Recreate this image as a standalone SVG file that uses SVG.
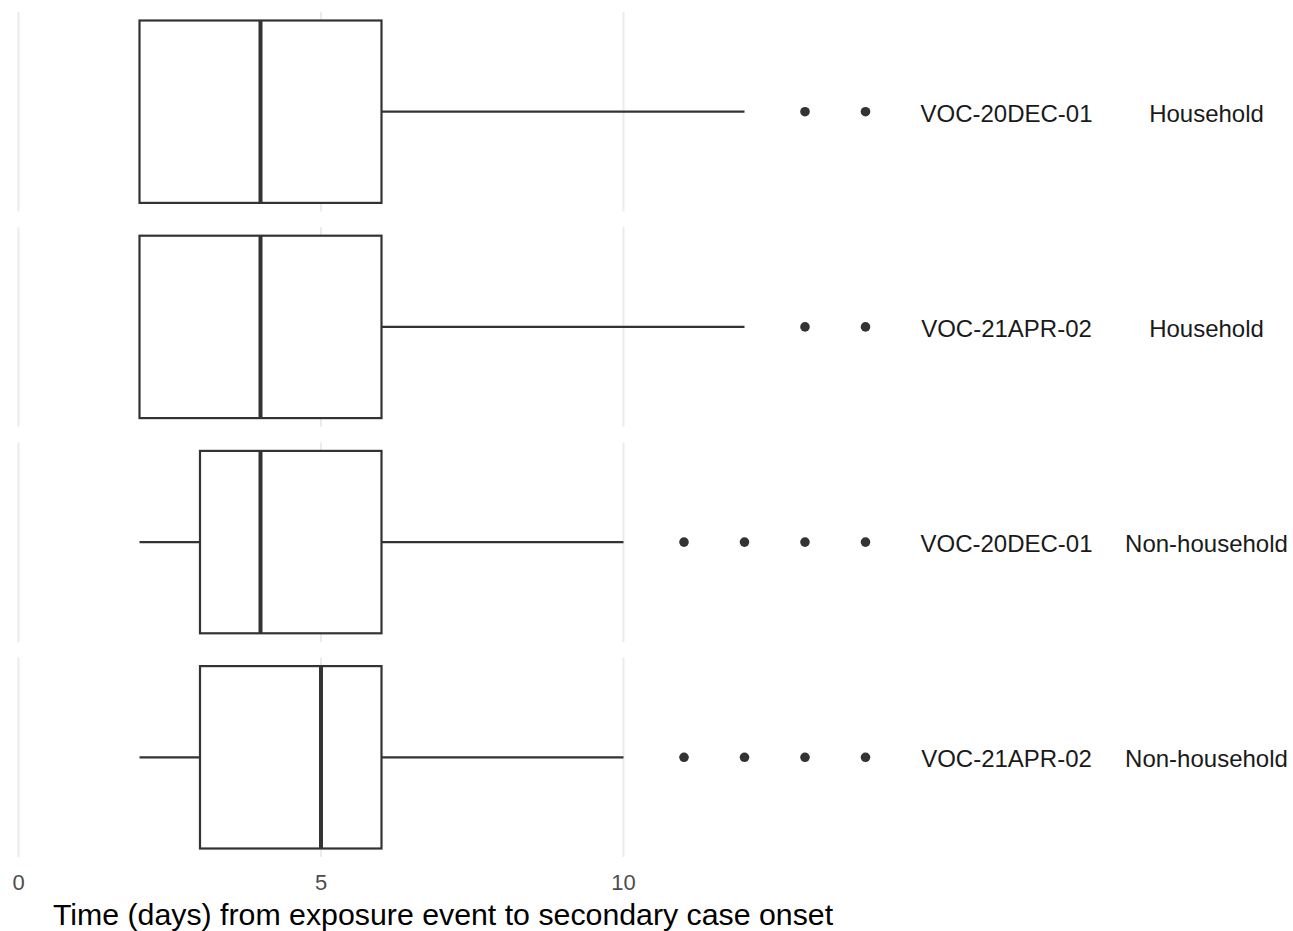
<svg xmlns="http://www.w3.org/2000/svg" width="1293" height="931" viewBox="0 0 1293 931">
<style>
.grid{stroke:#ebebeb;stroke-width:2;fill:none}
.box{stroke:#333333;stroke-width:2.2;fill:#ffffff}
.med{stroke:#333333;stroke-width:4}
.wh{stroke:#333333;stroke-width:2.2}
.out{fill:#333333}
.strip{font-family:"Liberation Sans",Arial,sans-serif;font-size:24px;fill:#1a1a1a;text-anchor:middle}
.tick{font-family:"Liberation Sans",Arial,sans-serif;font-size:22px;fill:#4d4d4d;text-anchor:middle}
.title{font-family:"Liberation Sans",Arial,sans-serif;font-size:30.3px;fill:#000000;text-anchor:middle}
</style>
<rect x="0" y="0" width="1293" height="931" fill="#ffffff"/>
<g id="gridlines">
<path class="grid" d="M18.5 12V211.5M321 12V211.5M623.5 12V211.5"/>
<path class="grid" d="M18.5 227.2V426.7M321 227.2V426.7M623.5 227.2V426.7"/>
<path class="grid" d="M18.5 442.4V641.9M321 442.4V641.9M623.5 442.4V641.9"/>
<path class="grid" d="M18.5 657.6V857.1M321 657.6V857.1M623.5 657.6V857.1"/>
</g>
<g id="whiskers">
<line class="wh" x1="381.5" y1="111.7" x2="744.5" y2="111.7"/>
<line class="wh" x1="381.5" y1="326.9" x2="744.5" y2="326.9"/>
<line class="wh" x1="139.5" y1="542.1" x2="200" y2="542.1"/>
<line class="wh" x1="381.5" y1="542.1" x2="623.5" y2="542.1"/>
<line class="wh" x1="139.5" y1="757.3" x2="200" y2="757.3"/>
<line class="wh" x1="381.5" y1="757.3" x2="623.5" y2="757.3"/>
</g>
<g id="row1">
<rect class="box" x="139.5" y="20.5" width="242" height="182.4"/>
<line class="med" x1="260.5" y1="20.5" x2="260.5" y2="202.9"/>
<circle class="out" cx="805" cy="111.7" r="4.8"/>
<circle class="out" cx="865.5" cy="111.7" r="4.8"/>
<text class="strip" x="1006.5" y="121.5">VOC-20DEC-01</text>
<text class="strip" x="1206.5" y="121.5">Household</text>
</g>
<g id="row2">
<rect class="box" x="139.5" y="235.7" width="242" height="182.4"/>
<line class="med" x1="260.5" y1="235.7" x2="260.5" y2="418.1"/>
<circle class="out" cx="805" cy="326.9" r="4.8"/>
<circle class="out" cx="865.5" cy="326.9" r="4.8"/>
<text class="strip" x="1006.5" y="336.7">VOC-21APR-02</text>
<text class="strip" x="1206.5" y="336.7">Household</text>
</g>
<g id="row3">
<rect class="box" x="200" y="450.9" width="181.5" height="182.4"/>
<line class="med" x1="260.5" y1="450.9" x2="260.5" y2="633.3"/>
<circle class="out" cx="684" cy="542.1" r="4.8"/>
<circle class="out" cx="744.5" cy="542.1" r="4.8"/>
<circle class="out" cx="805" cy="542.1" r="4.8"/>
<circle class="out" cx="865.5" cy="542.1" r="4.8"/>
<text class="strip" x="1006.5" y="551.9">VOC-20DEC-01</text>
<text class="strip" x="1206.5" y="551.9">Non-household</text>
</g>
<g id="row4">
<rect class="box" x="200" y="666.1" width="181.5" height="182.4"/>
<line class="med" x1="321" y1="666.1" x2="321" y2="848.5"/>
<circle class="out" cx="684" cy="757.3" r="4.8"/>
<circle class="out" cx="744.5" cy="757.3" r="4.8"/>
<circle class="out" cx="805" cy="757.3" r="4.8"/>
<circle class="out" cx="865.5" cy="757.3" r="4.8"/>
<text class="strip" x="1006.5" y="767.1">VOC-21APR-02</text>
<text class="strip" x="1206.5" y="767.1">Non-household</text>
</g>
<g id="axis">
<text class="tick" x="18.5" y="890">0</text>
<text class="tick" x="321" y="890">5</text>
<text class="tick" x="623.5" y="890">10</text>
<text class="title" x="443" y="925">Time (days) from exposure event to secondary case onset</text>
</g>
</svg>
